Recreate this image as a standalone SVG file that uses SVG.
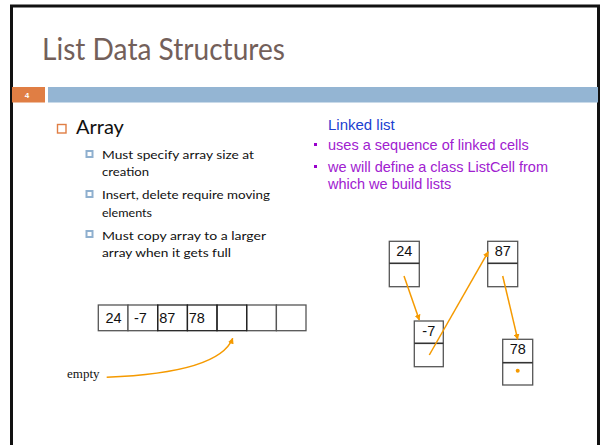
<svg xmlns="http://www.w3.org/2000/svg" width="600" height="445" viewBox="0 0 600 445">
  <defs>
    <style>
      .title { font-family: "Lato", "Open Sans", sans-serif; font-size: 31px; fill: #73605a; }
      .h1 { font-family: "Lato", "Open Sans", sans-serif; font-size: 20px; fill: #111; }
      .sub { font-family: "Lato", "Open Sans", sans-serif; font-size: 12px; fill: #111; }
      .ll-head { font-family: "Liberation Sans", Arial, sans-serif; font-size: 15px; fill: #2040d0; }
      .ll { font-family: "Liberation Sans", Arial, sans-serif; font-size: 14.5px; fill: #a020d0; }
      .num { font-family: "Liberation Sans", Arial, sans-serif; font-size: 14.5px; fill: #111; }
      .cell { fill: #fff; stroke: #555; stroke-width: 1.3; }
      .cell-dark { fill: none; stroke: #222; stroke-width: 1.3; }
      .divider { stroke: #333; stroke-width: 1.6; }
      .link { fill: none; stroke: #f59a00; stroke-width: 1.5; }
    </style>
    <marker id="arrow" viewBox="0 0 10 10" refX="9" refY="5" markerWidth="6" markerHeight="6" orient="auto" markerUnits="userSpaceOnUse">
      <path d="M0,0 L10,5 L0,10 z" fill="#f59a00"/>
    </marker>
  </defs>

  <!-- slide frame -->
  <rect width="600" height="445" fill="#fff"/>
  <path d="M11.5,445 V6 H598.5 V445" fill="none" stroke="#111" stroke-width="3"/>

  <!-- title and header bar -->
  <text class="title" x="42" y="60" textLength="243" lengthAdjust="spacingAndGlyphs">List Data Structures</text>
  <rect x="12" y="87" width="33" height="15.5" fill="#e07e44"/>
  <rect x="48" y="87" width="550" height="15.5" fill="#94b5d3"/>
  <text x="27" y="98" font-family="Liberation Sans, Arial, sans-serif" font-size="8" font-weight="bold" fill="#fff" text-anchor="middle">4</text>

  <!-- array bullets -->
  <g id="array-text">
    <rect x="57.5" y="124.5" width="8.5" height="8.5" fill="none" stroke="#e07e44" stroke-width="1.4"/>
    <text class="h1" x="76" y="133.5">Array</text>
    <rect x="86.5" y="151" width="6" height="6" fill="none" stroke="#8fb0cf" stroke-width="2"/>
    <text class="sub" x="102" y="158.5" textLength="152" lengthAdjust="spacingAndGlyphs">Must specify array size at</text>
    <text class="sub" x="102" y="176" textLength="47" lengthAdjust="spacingAndGlyphs">creation</text>
    <rect x="86.5" y="191" width="6" height="6" fill="none" stroke="#8fb0cf" stroke-width="2"/>
    <text class="sub" x="102" y="199" textLength="168" lengthAdjust="spacingAndGlyphs">Insert, delete require moving</text>
    <text class="sub" x="102" y="216.5" textLength="50" lengthAdjust="spacingAndGlyphs">elements</text>
    <rect x="86.5" y="231" width="6" height="6" fill="none" stroke="#8fb0cf" stroke-width="2"/>
    <text class="sub" x="102" y="239.5" textLength="164" lengthAdjust="spacingAndGlyphs">Must copy array to a larger</text>
    <text class="sub" x="102" y="257" textLength="129" lengthAdjust="spacingAndGlyphs">array when it gets full</text>
  </g>

  <!-- linked list bullets -->
  <g id="linked-text">
    <text class="ll-head" x="328" y="129.5">Linked list</text>
    <rect x="314" y="143" width="3" height="3" fill="#9900cc"/>
    <text class="ll" x="328" y="150">uses a sequence of linked cells</text>
    <rect x="314" y="165" width="3" height="3" fill="#9900cc"/>
    <text class="ll" x="328" y="171.5">we will define a class ListCell from</text>
    <text class="ll" x="328" y="188.5">which we build lists</text>
  </g>

  <!-- array cells -->
  <g id="array">
    <rect class="cell" x="98.3" y="305" width="29.7" height="25.7"/>
    <rect class="cell" x="128" y="305" width="29.7" height="25.7"/>
    <rect class="cell" x="246.7" y="305" width="29.7" height="25.7"/>
    <rect class="cell" x="276.4" y="305" width="29.6" height="25.7"/>
    <rect class="cell-dark" x="157.7" y="305" width="29.7" height="25.7"/>
    <rect class="cell-dark" x="187.4" y="305" width="29.6" height="25.7"/>
    <rect class="cell-dark" x="217" y="305" width="29.7" height="25.7"/>
    <text class="num" x="105.5" y="322.5">24</text>
    <text class="num" x="134" y="322.5">-7</text>
    <text class="num" x="159.3" y="322.5">87</text>
    <text class="num" x="188.7" y="322.5">78</text>
  </g>

  <g id="empty-label">
    <text x="67" y="377.7" font-family="Liberation Serif, Times New Roman, serif" font-size="13" fill="#111">empty</text>
  </g>

  <!-- list cells -->
  <g id="cell-24">
    <rect class="cell" x="389.3" y="241.3" width="30" height="45.4"/>
    <line class="divider" x1="389.3" y1="263.3" x2="419.3" y2="263.3"/>
    <text class="num" x="404.3" y="256" text-anchor="middle">24</text>
  </g>
  <g id="cell-m7">
    <rect class="cell" x="414.3" y="321" width="29" height="45.7"/>
    <line class="divider" x1="414.3" y1="343.3" x2="443.3" y2="343.3"/>
    <text class="num" x="428.8" y="335.5" text-anchor="middle">-7</text>
  </g>
  <g id="cell-87">
    <rect class="cell" x="487.7" y="241.3" width="30" height="45.4"/>
    <line class="divider" x1="487.7" y1="263.3" x2="517.7" y2="263.3"/>
    <text class="num" x="502.7" y="256" text-anchor="middle">87</text>
  </g>
  <g id="cell-78">
    <rect class="cell" x="502.7" y="339.3" width="30" height="45.7"/>
    <line class="divider" x1="502.7" y1="362.7" x2="532.7" y2="362.7"/>
    <text class="num" x="517.7" y="354" text-anchor="middle">78</text>
    <circle cx="517.7" cy="370.7" r="2" fill="#f59a00"/>
  </g>

  <!-- connectors -->
  <g id="connectors">
    <path class="link" d="M106.7,377.3 C165,375 222,366 232.7,338.3" stroke-width="2" marker-end="url(#arrow)"/>
    <path class="link" d="M404,276 L419.3,320" marker-end="url(#arrow)"/>
    <path class="link" d="M429.3,355 L488.3,251.7" marker-end="url(#arrow)"/>
    <path class="link" d="M502.7,276 L517.7,339.3" marker-end="url(#arrow)"/>
  </g>
</svg>
